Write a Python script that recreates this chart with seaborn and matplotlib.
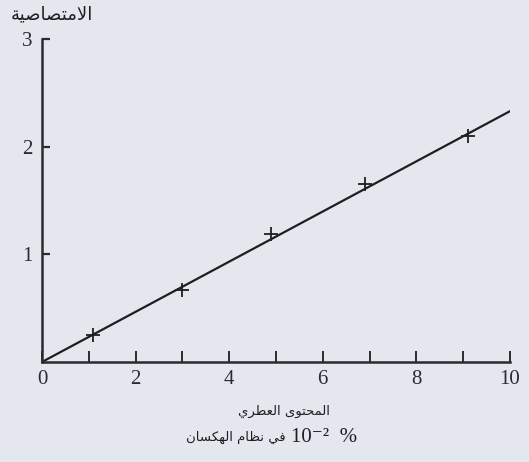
import matplotlib
matplotlib.use("Agg")
import matplotlib.pyplot as plt
import seaborn as sns
import pandas as pd

# Measured points (aromatic content vs absorbance)
content = [1.1, 3.0, 4.9, 6.9, 9.1]
absorbance = [0.25, 0.67, 1.19, 1.65, 2.10]

# Calibration line
fit_x = [0.0, 10.0]
fit_y = [0.0, 2.33]

x_ticks = [0, 2, 4, 6, 8, 10]
x_minor = [1, 3, 5, 7, 9]
y_ticks = [1, 2, 3]

y_title = "الامتصاصية"
x_title_1 = "المحتوى العطري"
x_title_2_words = "في نظام الهكسان"
x_title_2_unit = "10⁻²  %"

# --- minimal Arabic shaping for left-to-right rendering -------------------
FORMS = {
    "ا": ("\uFE8D", "\uFE8E", None, None),
    "ة": ("\uFE93", "\uFE94", None, None),
    "ت": ("\uFE95", "\uFE96", "\uFE97", "\uFE98"),
    "ح": ("\uFEA1", "\uFEA2", "\uFEA3", "\uFEA4"),
    "ر": ("\uFEAD", "\uFEAE", None, None),
    "س": ("\uFEB1", "\uFEB2", "\uFEB3", "\uFEB4"),
    "ص": ("\uFEB9", "\uFEBA", "\uFEBB", "\uFEBC"),
    "ط": ("\uFEC1", "\uFEC2", "\uFEC3", "\uFEC4"),
    "ظ": ("\uFEC5", "\uFEC6", "\uFEC7", "\uFEC8"),
    "ع": ("\uFEC9", "\uFECA", "\uFECB", "\uFECC"),
    "ف": ("\uFED1", "\uFED2", "\uFED3", "\uFED4"),
    "ك": ("\uFED9", "\uFEDA", "\uFEDB", "\uFEDC"),
    "ل": ("\uFEDD", "\uFEDE", "\uFEDF", "\uFEE0"),
    "م": ("\uFEE1", "\uFEE2", "\uFEE3", "\uFEE4"),
    "ن": ("\uFEE5", "\uFEE6", "\uFEE7", "\uFEE8"),
    "ه": ("\uFEE9", "\uFEEA", "\uFEEB", "\uFEEC"),
    "و": ("\uFEED", "\uFEEE", None, None),
    "ى": ("\uFEEF", "\uFEF0", None, None),
    "ي": ("\uFEF1", "\uFEF2", "\uFEF3", "\uFEF4"),
    "لا": ("\uFEFB", "\uFEFC", None, None),
}


def dual(tok):
    return tok in FORMS and FORMS[tok][2] is not None


def shape_word(word):
    toks = []
    i = 0
    while i < len(word):
        if word[i] == "ل" and i + 1 < len(word) and word[i + 1] == "ا":
            toks.append("لا")
            i += 2
        else:
            toks.append(word[i])
            i += 1
    out = []
    for k, t in enumerate(toks):
        if t not in FORMS:
            out.append(t)
            continue
        prev_join = k > 0 and dual(toks[k - 1])
        next_join = dual(t) and k + 1 < len(toks) and toks[k + 1] in FORMS
        iso, fin, ini, med = FORMS[t]
        if prev_join and next_join:
            out.append(med)
        elif prev_join:
            out.append(fin)
        elif next_join:
            out.append(ini)
        else:
            out.append(iso)
    return "".join(reversed(out))


def shape(text):
    return " ".join(shape_word(w) for w in reversed(text.split(" ")))


# --- figure ----------------------------------------------------------------
sns.set_style("ticks")
plt.rcParams["font.family"] = ["Liberation Serif", "DejaVu Sans"]
bg = "#e4e8ee"
ink = "#1e1e22"

fig = plt.figure(figsize=(5.29, 4.62), dpi=100, facecolor=bg)
ax = fig.add_axes([0.0794, 0.2165, 0.8847, 0.699])
ax.set_facecolor(bg)

pts = pd.DataFrame({"content": content, "absorbance": absorbance})
line = pd.DataFrame({"x": fit_x, "y": fit_y})

sns.lineplot(data=line, x="x", y="y", ax=ax, color=ink, linewidth=1.6)
sns.scatterplot(data=pts, x="content", y="absorbance", ax=ax, marker="+",
                s=110, color=ink, linewidth=1.3, zorder=3)

ax.set_xlim(0, 10)
ax.set_ylim(0, 3)
ax.set_xticks(x_ticks)
ax.set_xticks(x_minor, minor=True)
ax.set_yticks(y_ticks)
ax.set_xticklabels([str(t) for t in x_ticks])
ax.set_yticklabels([str(t) for t in y_ticks])
ax.tick_params(axis="x", which="both", direction="in", length=8, width=1.4,
               color="#2a2a30", labelsize=15, pad=6, labelcolor="#2a2a30")
ax.tick_params(axis="y", which="both", direction="in", length=6, width=1.6,
               color="#2a2a30", labelsize=15, pad=7, labelcolor="#2a2a30")

for side in ("top", "right"):
    ax.spines[side].set_visible(False)
for side in ("left", "bottom"):
    ax.spines[side].set_linewidth(1.8)
    ax.spines[side].set_color("#2a2a30")

ax.set_xlabel("")
ax.set_ylabel("")

fig.text(0.099, 0.968, shape(y_title), ha="center", va="center",
         fontsize=13, family=["DejaVu Sans"], color=ink)
fig.text(0.536, 0.110, shape(x_title_1), ha="center", va="center",
         fontsize=9.5, family=["DejaVu Sans"], color=ink)
fig.text(0.540, 0.054, shape(x_title_2_words), ha="right", va="center",
         fontsize=9.5, family=["DejaVu Sans"], color=ink)
fig.text(0.550, 0.054, x_title_2_unit, ha="left", va="center",
         fontsize=15, family=["Liberation Serif", "DejaVu Sans"], color=ink)

fig.savefig("out.png", dpi=100, facecolor=bg)
